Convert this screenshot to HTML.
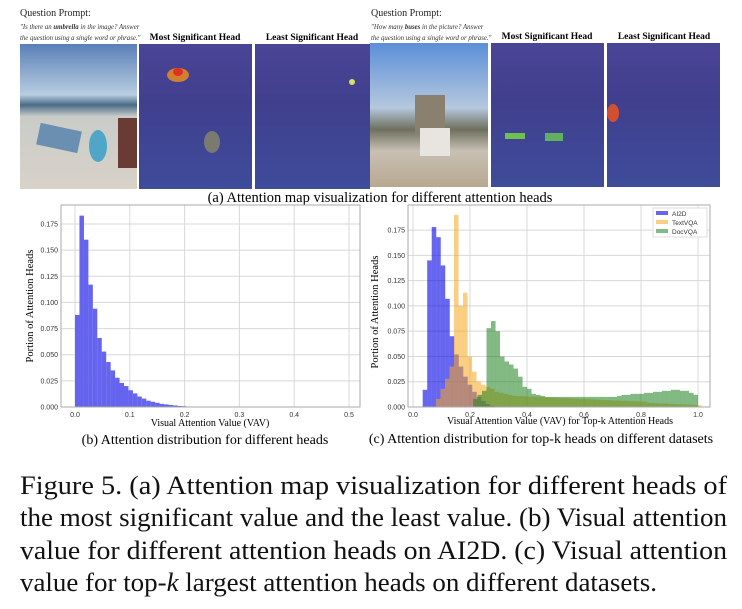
<!DOCTYPE html>
<html><head><meta charset="utf-8"><style>
html,body{margin:0;padding:0;background:#fff;}
svg{display:block;}
</style></head><body>
<svg id="s" width="742" height="609" xmlns="http://www.w3.org/2000/svg" font-family="Liberation Serif, serif">
<defs>
<linearGradient id="beach" x1="0" y1="0" x2="0" y2="1">
<stop offset="0" stop-color="#5a7fb8"/><stop offset="0.35" stop-color="#b8cde0"/><stop offset="0.42" stop-color="#4a6b86"/><stop offset="0.5" stop-color="#c9ccc8"/><stop offset="1" stop-color="#d8d2c8"/></linearGradient>
<linearGradient id="att" x1="0" y1="0" x2="0" y2="1">
<stop offset="0" stop-color="#4b4496"/><stop offset="0.4" stop-color="#403f8e"/><stop offset="1" stop-color="#3e4c9a"/></linearGradient>
<linearGradient id="city" x1="0" y1="0" x2="0" y2="1">
<stop offset="0" stop-color="#5b8fd8"/><stop offset="0.45" stop-color="#b5c8de"/><stop offset="0.6" stop-color="#6d705e"/><stop offset="0.75" stop-color="#c8c0b4"/><stop offset="1" stop-color="#b8a890"/></linearGradient>
</defs>
<text x="20" y="16" font-size="10" fill="#222">Question Prompt:</text>
<text x="20" y="29" font-size="6.8" font-style="italic" fill="#333">"Is there an <tspan font-weight="bold">umbrella</tspan> in the image? Answer</text>
<text x="20" y="40" font-size="6.8" font-style="italic" fill="#333">the question using a single word or phrase."</text>
<text x="195" y="40" font-size="9.5" font-weight="bold" text-anchor="middle">Most Significant Head</text>
<text x="312" y="40" font-size="9.5" font-weight="bold" text-anchor="middle">Least Significant Head</text>
<text x="371" y="16" font-size="10" fill="#222">Question Prompt:</text>
<text x="371" y="29" font-size="6.8" font-style="italic" fill="#333">"How many <tspan font-weight="bold">buses</tspan> in the picture? Answer</text>
<text x="371" y="40" font-size="6.8" font-style="italic" fill="#333">the question using a single word or phrase."</text>
<text x="547" y="39" font-size="9.5" font-weight="bold" text-anchor="middle">Most Significant Head</text>
<text x="664" y="39" font-size="9.5" font-weight="bold" text-anchor="middle">Least Significant Head</text>
<rect x="20" y="44" width="117" height="145" fill="url(#beach)"/>
<rect x="38" y="127" width="42" height="22" fill="#6a8fb0" transform="rotate(12 59 138)"/>
<ellipse cx="98" cy="146" rx="9" ry="16" fill="#4fa6c8"/>
<rect x="118" y="118" width="19" height="50" fill="#6a3a34"/>
<rect x="139" y="44" width="113" height="145" fill="url(#att)"/>
<ellipse cx="178" cy="75" rx="11" ry="7" fill="#d08030"/><ellipse cx="178" cy="72" rx="5" ry="4" fill="#e03020"/>
<ellipse cx="212" cy="142" rx="8" ry="11" fill="#7a7a70"/>
<rect x="255" y="44" width="115" height="145" fill="url(#att)"/>
<circle cx="352" cy="82" r="3" fill="#d8e060"/>
<rect x="370" y="43" width="118" height="144" fill="url(#city)"/>
<rect x="415" y="95" width="30" height="40" fill="#8a8070"/>
<rect x="420" y="128" width="30" height="28" fill="#e8e4e0"/>
<rect x="491" y="43" width="113" height="144" fill="url(#att)"/>
<rect x="505" y="133" width="20" height="6" fill="#70c050"/><rect x="545" y="133" width="18" height="8" fill="#60b060"/>
<rect x="607" y="43" width="113" height="144" fill="url(#att)"/>
<ellipse cx="613" cy="113" rx="6" ry="9" fill="#d05030"/>
<text x="380" y="202" font-size="14.5" text-anchor="middle">(a) Attention map visualization for different attention heads</text>

<g id="b" font-family="Liberation Sans, sans-serif"></g>
<g id="c" font-family="Liberation Sans, sans-serif"></g>

<text x="205" y="444" font-size="14" text-anchor="middle">(b) Attention distribution for different heads</text>
<text x="541" y="443" font-size="14" text-anchor="middle">(c) Attention distribution for top-k heads on different datasets</text>

<g font-size="26.5" fill="#111">
<text x="20" y="494" textLength="707" lengthAdjust="spacingAndGlyphs">Figure 5.  (a) Attention map visualization for different heads of</text>
<text x="20" y="526" textLength="707" lengthAdjust="spacingAndGlyphs">the most significant value and the least value. (b) Visual attention</text>
<text x="20" y="559" textLength="707" lengthAdjust="spacingAndGlyphs">value for different attention heads on AI2D. (c) Visual attention</text>
<text x="20" y="591" textLength="637" lengthAdjust="spacingAndGlyphs">value for top-<tspan font-style="italic">k</tspan> largest attention heads on different datasets.</text>
</g>
</svg>
<script>
var NS="http://www.w3.org/2000/svg";
function el(p,t,a,txt){var e=document.createElementNS(NS,t);for(var k in a)e.setAttribute(k,a[k]);if(txt!==undefined)e.textContent=txt;p.appendChild(e);return e;}
(function(){
var g=document.getElementById('b');
var L=61,R=360,T=205,B=407;
var X=function(v){return 75+548*v;},Y=function(v){return 407-v*1045.7;};
el(g,'rect',{x:L,y:T,width:R-L,height:B-T,fill:'#fff'});
for(var i=0;i<=5;i++){var x=X(i/10);el(g,'line',{x1:x,x2:x,y1:T,y2:B,stroke:'#d8d8d8','stroke-width':1});el(g,'text',{x:x,y:B+10,'font-size':7,'text-anchor':'middle',fill:'#333'},(i/10).toFixed(1));}
for(var j=0;j<=7;j++){var v=j*0.025,y=Y(v);el(g,'line',{x1:L,x2:R,y1:y,y2:y,stroke:'#d8d8d8','stroke-width':1});el(g,'text',{x:L-3,y:y+2.5,'font-size':7,'text-anchor':'end',fill:'#333'},v.toFixed(3));}
var h=[0.088,0.183,0.160,0.117,0.094,0.066,0.053,0.043,0.035,0.028,0.023,0.020,0.016,0.013,0.010,0.008,0.006,0.005,0.004,0.003,0.0025,0.002,0.0015,0.001,0.0008,0.0005,0.0004,0.0003,0.0002,0.0001];
for(var k=0;k<h.length;k++){el(g,'rect',{x:75+k*4.45,y:Y(h[k]),width:4.5,height:B-Y(h[k]),fill:'#6464ef'});}
el(g,'rect',{x:L,y:T,width:R-L,height:B-T,fill:'none',stroke:'#aaa'});
el(g,'text',{x:210,y:426,'font-size':10,'text-anchor':'middle','font-family':'Liberation Serif, serif'},'Visual Attention Value (VAV)');
el(g,'text',{x:0,y:0,'font-size':10.5,'text-anchor':'middle','font-family':'Liberation Serif, serif',transform:'translate(33,306) rotate(-90)'},'Portion of Attention Heads');
})();
(function(){
var g=document.getElementById('c');
var L=408,R=710,T=205,B=407;
var X=function(v){return 413+285*v;},Y=function(v){return 407-v*1011;};
for(var i=0;i<=5;i++){var x=X(i/5);el(g,'line',{x1:x,x2:x,y1:T,y2:B,stroke:'#d8d8d8'});el(g,'text',{x:x,y:B+10,'font-size':7,'text-anchor':'middle',fill:'#333'},(i/5).toFixed(1));}
for(var j=0;j<=7;j++){var v=j*0.025,y=Y(v);el(g,'line',{x1:L,x2:R,y1:y,y2:y,stroke:'#d8d8d8'});el(g,'text',{x:L-3,y:y+2.5,'font-size':7,'text-anchor':'end',fill:'#333'},v.toFixed(3));}
function bars(start,h,col){for(var k=0;k<h.length;k++){if(h[k]<=0)continue;el(g,'rect',{x:start+k*4.5,y:Y(h[k]),width:4.55,height:B-Y(h[k]),fill:col});}}
bars(422.7,[0.017,0.145,0.178,0.168,0.140,0.107,0.070,0.052,0.040,0.030,0.022,0.015,0.010,0.006,0.003,0.001],'rgba(0,0,230,0.6)');
var t=[0.008,0.018,0.028,0.04,0.19,0.10,0.113,0.05,0.035,0.025,0.022,0.02,0.018,0.015,0.014,0.013,0.012];
for(var a=0;a<30;a++)t.push(0.011-a*0.0002);
for(var a=0;a<12;a++)t.push(0.004-a*0.0002);
bars(436,t,'rgba(245,165,30,0.55)');
var d=[0.008,0.012,0.016,0.078,0.085,0.075,0.05,0.045,0.042,0.038,0.03,0.02,0.018,0.013,0.012,0.011];
while(d.length<32)d.push(0.01);
var tail=[0.011,0.012,0.012,0.013,0.013,0.013,0.014,0.014,0.015,0.015,0.016,0.016,0.017,0.017,0.016,0.016,0.014,0.012];
d=d.concat(tail);
bars(473,d,'rgba(30,130,30,0.55)');
el(g,'rect',{x:L,y:T,width:R-L,height:B-T,fill:'none',stroke:'#aaa'});
el(g,'rect',{x:653,y:208,width:54,height:29,fill:'#fff',stroke:'#ddd'});
var lg=[['AI2D','rgba(0,0,230,0.6)'],['TextVQA','rgba(245,165,30,0.55)'],['DocVQA','rgba(30,130,30,0.55)']];
for(var q=0;q<3;q++){el(g,'rect',{x:656,y:211+q*9,width:12,height:4,fill:lg[q][1]});el(g,'text',{x:672,y:216+q*9,'font-size':6.5,fill:'#333'},lg[q][0]);}
el(g,'text',{x:560,y:424,'font-size':10,'text-anchor':'middle','font-family':'Liberation Serif, serif'},'Visual Attention Value (VAV) for Top-k Attention Heads');
el(g,'text',{x:0,y:0,'font-size':10.5,'text-anchor':'middle','font-family':'Liberation Serif, serif',transform:'translate(378,312) rotate(-90)'},'Portion of Attention Heads');
})();
</script>
</body></html>
